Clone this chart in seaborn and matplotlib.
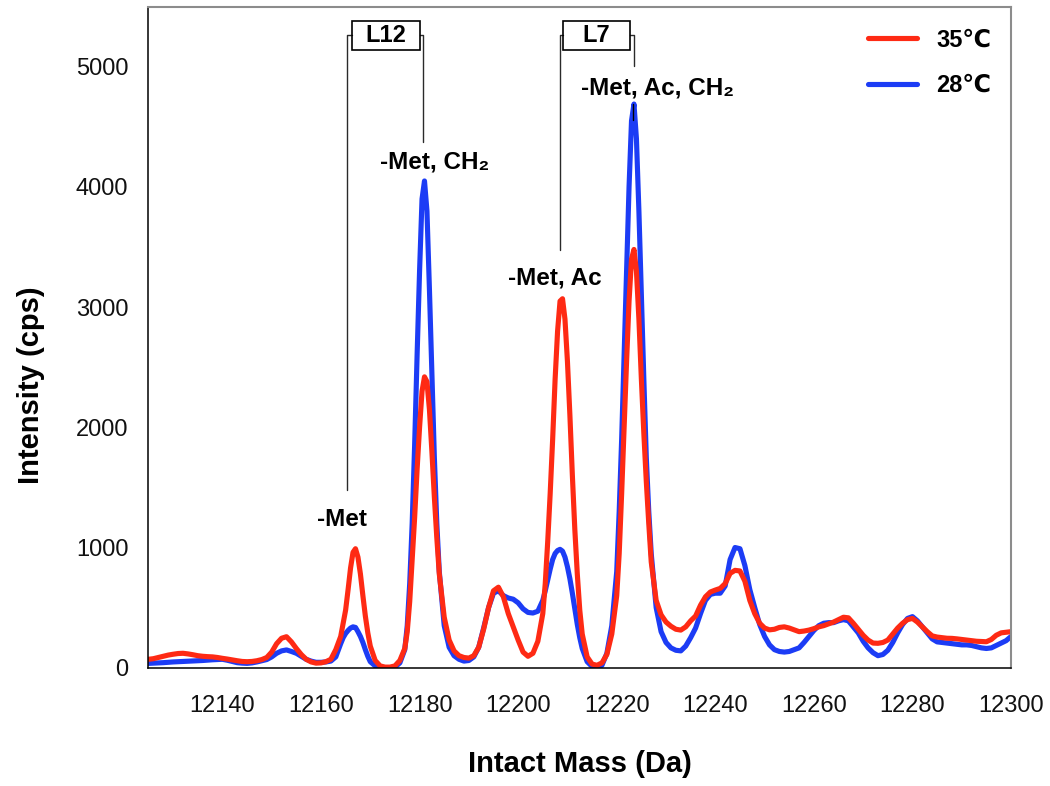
import numpy as np
import pandas as pd
import matplotlib
matplotlib.use("Agg")
import matplotlib.pyplot as plt
import seaborn as sns
from matplotlib.patches import Rectangle
from matplotlib.lines import Line2D

# ---------------- data ----------------
# mass grid (Da): 1 Da steps, 0.5 Da steps across the four main peaks
mass = np.concatenate([
    np.arange(12125, 12164, 1.0),      # 39
    np.arange(12164, 12170.5, 0.5),    # 13
    np.arange(12171, 12177, 1.0),      # 6
    np.arange(12177, 12184.5, 0.5),    # 15
    np.arange(12185, 12205, 1.0),      # 20
    np.arange(12205, 12213.5, 0.5),    # 17
    np.arange(12214, 12220, 1.0),      # 6
    np.arange(12220, 12227.5, 0.5),    # 15
    np.arange(12228, 12301, 1.0),      # 73
])

intensity_35C = [
    70, 75, 85, 95, 105, 112, 118, 120, 115, 108,
    100, 95, 92, 90, 85, 78, 72, 65, 58, 52,
    50, 52, 58, 68, 85, 130, 200, 245, 258, 215,
    160, 110, 70, 48, 38, 40, 50, 70, 150,
    260, 370, 480, 650, 830, 960, 990, 920, 780, 600, 430, 290, 180,
    60, 15, 5, 5, 15, 60,
    160, 300, 550, 900, 1250, 1650, 2000, 2300, 2420, 2380, 2150, 1800, 1420, 1080, 780,
    420, 230, 140, 100, 85, 80, 100, 170, 320, 500,
    640, 670, 590, 450, 340, 230, 130, 95, 120, 220,
    450, 700, 1050, 1450, 1900, 2400, 2800, 3050, 3070, 2900, 2550, 2100, 1600, 1150, 780, 480, 280,
    90, 30, 20, 40, 110, 280,
    600, 950, 1450, 2000, 2550, 3050, 3400, 3480, 3300, 2900, 2400, 1950, 1550, 1200, 880,
    560, 440, 380, 345, 320, 313, 340, 390, 430, 520,
    590, 630, 646, 660, 700, 785, 810, 805, 720, 560,
    450, 370, 330, 315, 320, 335, 340, 330, 315, 300,
    305, 313, 325, 340, 350, 365, 380, 400, 420, 415,
    370, 320, 270, 230, 205, 203, 210, 230, 280, 330,
    370, 400, 410, 380, 340, 300, 265, 255, 250, 245,
    244, 240, 235, 230, 225, 220, 218, 216, 235, 270,
    290, 295, 300,
]

intensity_28C = [
    36, 38, 40, 42, 45, 48, 50, 52, 54, 56,
    58, 60, 63, 66, 68, 70, 62, 52, 42, 38,
    36, 40, 48, 58, 68, 90, 120, 140, 148, 135,
    120, 95, 70, 55, 45, 45, 48, 55, 90,
    200, 250, 285, 310, 330, 340, 335, 300, 260, 210, 150, 95, 50,
    15, 0, 0, 0, 5, 40,
    150, 350, 700, 1200, 1850, 2600, 3300, 3900, 4050, 3800, 3150, 2450, 1750, 1200, 800,
    350, 170, 100, 70, 55, 60, 90, 170, 330, 500,
    620, 640, 600, 580, 570, 540, 490, 460, 455, 470,
    560, 640, 730, 820, 900, 950, 975, 985, 970, 920, 840, 740, 620, 490, 360, 250, 160,
    50, 10, 0, 20, 120, 350,
    800, 1300, 1900, 2600, 3300, 4000, 4550, 4690, 4400, 3800, 3100, 2400, 1750, 1300, 950,
    500, 300, 210, 165, 145, 140, 180, 250, 330, 450,
    560, 610, 620, 620, 680, 900, 1000, 990, 850, 650,
    500, 360, 260, 190, 150, 135, 130, 135, 150, 165,
    210, 260, 310, 350, 370, 375, 375, 390, 400, 390,
    340, 290, 220, 165, 125, 100, 110, 145, 210, 290,
    360, 410, 425, 390, 340, 290, 240, 215, 210, 205,
    200, 195, 190, 190, 185, 175, 165, 160, 165, 185,
    205, 225, 260,
]

series_labels = ["35℃", "28℃"]
x_ticks = [12140, 12160, 12180, 12200, 12220, 12240, 12260, 12280, 12300]
y_ticks = [0, 1000, 2000, 3000, 4000, 5000]

assert len(mass) == len(intensity_35C) == len(intensity_28C), (len(mass), len(intensity_35C), len(intensity_28C))

# ---------------- style ----------------
sns.set_theme(style="white")
plt.rcParams["font.family"] = ["Liberation Sans", "DejaVu Sans"]
plt.rcParams["text.color"] = "black"
plt.rcParams["axes.labelcolor"] = "black"

RED = "#fe2a14"
BLUE = "#1c3cf5"

df = pd.concat([
    pd.DataFrame({"mass": mass, "intensity": intensity_28C, "series": series_labels[1]}),
    pd.DataFrame({"mass": mass, "intensity": intensity_35C, "series": series_labels[0]}),
])

fig = plt.figure(figsize=(10.5, 7.86), dpi=100)
ax = fig.add_axes([0.1414, 0.1505, 0.8215, 0.8410])

sns.lineplot(data=df, x="mass", y="intensity", hue="series",
             hue_order=[series_labels[1], series_labels[0]],
             palette={series_labels[0]: RED, series_labels[1]: BLUE},
             estimator=None, linewidth=3.7, legend=False, ax=ax)

ax.set_xlim(12125, 12300)
ax.set_ylim(0, 5500)
ax.set_xticks(x_ticks)
ax.set_yticks(y_ticks)
ax.tick_params(axis="both", direction="out", length=6.5, width=1.0, color="black",
               labelsize=17, labelcolor="#111111")
ax.tick_params(axis="x", pad=13)
ax.tick_params(axis="y", pad=8)

for side in ["left", "bottom"]:
    ax.spines[side].set_color("black")
    ax.spines[side].set_linewidth(1.1)
for side in ["top", "right"]:
    ax.spines[side].set_color("#8c8c8c")
    ax.spines[side].set_linewidth(1.5)

ax.set_xlabel("Intact Mass (Da)", fontsize=21, fontweight="bold", color="black")
ax.set_ylabel("Intensity (cps)", fontsize=21, fontweight="bold", color="black")
ax.xaxis.label.set_va("center")
ax.yaxis.label.set_va("center")
ax.xaxis.set_label_coords(0.5, -0.146)
ax.yaxis.set_label_coords(-0.136, 0.427)

# ---------------- annotations ----------------
line_kw = dict(color="#2a2a2a", linewidth=1.0, zorder=5)
y_mid = 5262

# L12 bracket
ax.plot([12165.3, 12165.3, 12166.3], [1480, y_mid, y_mid], **line_kw)
ax.plot([12180.6, 12180.6, 12180.0], [4372, y_mid, y_mid], **line_kw)
ax.add_patch(Rectangle((12166.3, 5142), 12180.0 - 12166.3, 5384 - 5142,
                       fill=False, edgecolor="black", linewidth=1.2, zorder=6))
ax.text((12166.3 + 12180.0) / 2, y_mid, "L12", ha="center", va="center",
        fontsize=17, fontweight="bold", color="black", zorder=7)

# L7 bracket
ax.plot([12208.4, 12208.4, 12209.1], [3472, y_mid, y_mid], **line_kw)
ax.plot([12223.5, 12223.5, 12222.7], [5009, y_mid, y_mid], **line_kw)
ax.plot([12223.4, 12223.4], [4560, 4690], color="black", linewidth=1.0, zorder=6)
ax.add_patch(Rectangle((12209.1, 5142), 12222.7 - 12209.1, 5384 - 5142,
                       fill=False, edgecolor="black", linewidth=1.2, zorder=6))
ax.text((12209.1 + 12222.7) / 2, y_mid, "L7", ha="center", va="center",
        fontsize=17, fontweight="bold", color="black", zorder=7)

lab_kw = dict(ha="center", va="center", fontsize=17.5, fontweight="bold",
              color="black", zorder=7)
ax.text(12164.2, 1236, "-Met", **lab_kw)
ax.text(12183.1, 4206, "-Met, CH₂", **lab_kw)
ax.text(12207.5, 3239, "-Met, Ac", **lab_kw)
ax.text(12228.3, 4827, "-Met, Ac, CH₂", **lab_kw)

# ---------------- legend ----------------
handles = [Line2D([0], [0], color=RED, linewidth=3.7),
           Line2D([0], [0], color=BLUE, linewidth=3.7)]
leg = ax.legend(handles, series_labels, loc="upper left", bbox_to_anchor=(0.834, 0.967),
                frameon=False, prop={"size": 17, "weight": "bold"},
                handlelength=2.1, handletextpad=0.8, labelspacing=0.95, borderpad=0,
                borderaxespad=0)
for t in leg.get_texts():
    t.set_color("black")

fig.savefig("out.png", dpi=100)
